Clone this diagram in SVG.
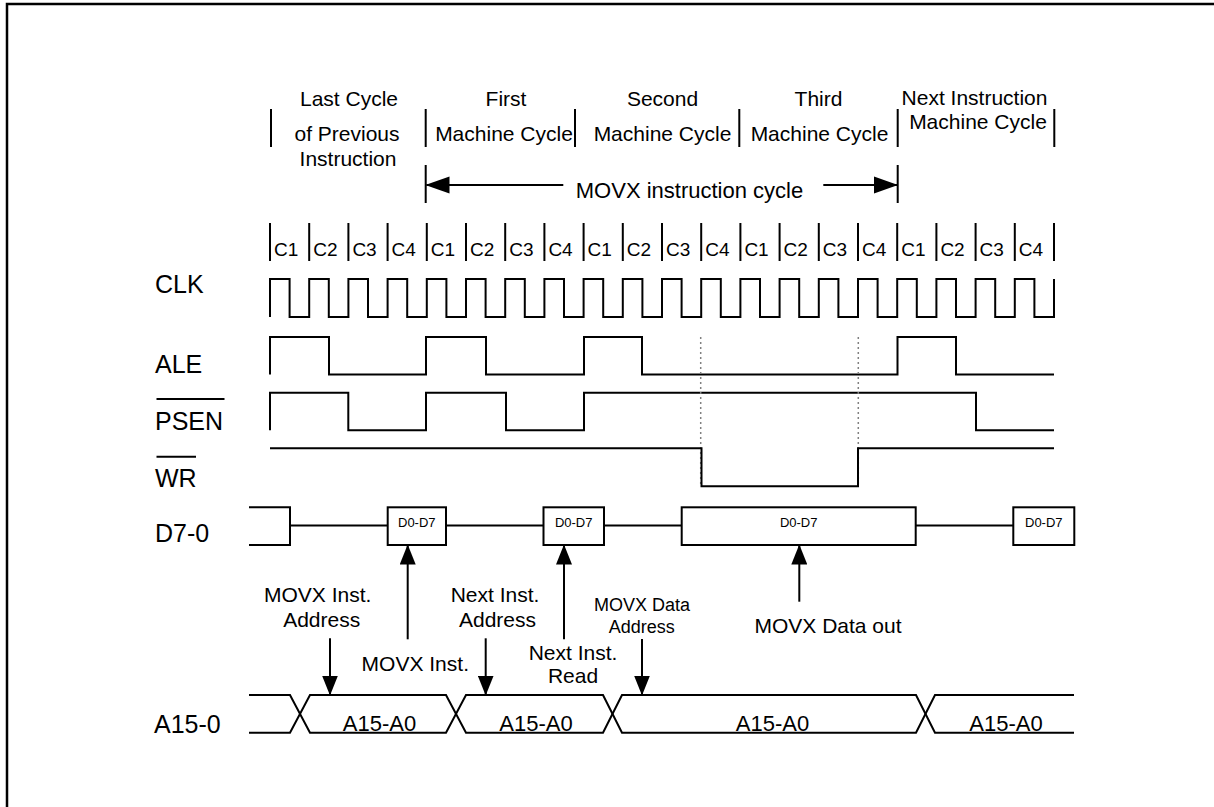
<svg xmlns="http://www.w3.org/2000/svg" width="1214" height="807" viewBox="0 0 1214 807">
<style>
text{font-family:"Liberation Sans",Arial,sans-serif;fill:#000}
.hd{font-size:21px;text-anchor:middle}
.ck{font-size:19px}
.lb{font-size:25px}
.dd{font-size:13px;text-anchor:middle}
.ab{font-size:22px;text-anchor:middle}
.an{font-size:21px;text-anchor:middle}
.sm{font-size:18px;text-anchor:middle}
.w{fill:none;stroke:#000;stroke-width:2}
.bx{fill:#fff;stroke:#000;stroke-width:2}
.dot{fill:none;stroke:#808080;stroke-width:1.5;stroke-dasharray:2 3}
</style>
<defs>
<marker id="ah" markerWidth="20" markerHeight="16" refX="19" refY="8" orient="auto" markerUnits="userSpaceOnUse"><path d="M0,0 L20,8 L0,16 z" fill="#000"/></marker>
<marker id="ahh" markerWidth="24" markerHeight="18" refX="23" refY="9" orient="auto" markerUnits="userSpaceOnUse"><path d="M0,0.5 L24,9 L0,17.5 z" fill="#000"/></marker>
</defs>
<rect width="1214" height="807" fill="#fff"/>
<path d="M7,807 V4 H1214" fill="none" stroke="#000" stroke-width="2.5"/>

<g id="header">
<text class="hd" x="349" y="106">Last Cycle</text>
<text class="hd" x="347" y="141">of Previous</text>
<text class="hd" x="348" y="166">Instruction</text>
<text class="hd" x="506" y="106">First</text>
<text class="hd" x="504" y="141">Machine Cycle</text>
<text class="hd" x="662.5" y="106">Second</text>
<text class="hd" x="662.5" y="141">Machine Cycle</text>
<text class="hd" x="818.5" y="106">Third</text>
<text class="hd" x="819.5" y="141">Machine Cycle</text>
<text class="hd" x="974.5" y="105">Next Instruction</text>
<text class="hd" x="978" y="128.5">Machine Cycle</text>
<path class="w" d="M271,109 V147 M425.7,109 V147 M575,109 V147 M739.3,109 V147 M897.7,109 V147 M1054.3,109 V147"/>
</g>

<g id="instr-cycle">
<path class="w" d="M425.7,165 V203 M897.7,165 V203"/>
<text class="hd" x="689.5" y="198" style="font-size:22px">MOVX instruction cycle</text>
</g>

<g id="c-labels">
<path class="w" d="M270,223 V261 M309.2,223 V261 M348.4,223 V261 M387.6,223 V261 M426.8,223 V261 M466,223 V261 M505.2,223 V261 M544.4,223 V261 M583.6,223 V261 M622.8,223 V261 M662,223 V261 M701.2,223 V261 M740.4,223 V261 M779.6,223 V261 M818.8,223 V261 M858,223 V261 M897.2,223 V261 M936.4,223 V261 M975.6,223 V261 M1014.8,223 V261 M1054,223 V261"/>
<text class="ck" x="274" y="256">C1</text>
<text class="ck" x="313.2" y="256">C2</text>
<text class="ck" x="352.4" y="256">C3</text>
<text class="ck" x="391.6" y="256">C4</text>
<text class="ck" x="430.8" y="256">C1</text>
<text class="ck" x="470" y="256">C2</text>
<text class="ck" x="509.2" y="256">C3</text>
<text class="ck" x="548.4" y="256">C4</text>
<text class="ck" x="587.6" y="256">C1</text>
<text class="ck" x="626.8" y="256">C2</text>
<text class="ck" x="666" y="256">C3</text>
<text class="ck" x="705.2" y="256">C4</text>
<text class="ck" x="744.4" y="256">C1</text>
<text class="ck" x="783.6" y="256">C2</text>
<text class="ck" x="822.8" y="256">C3</text>
<text class="ck" x="862" y="256">C4</text>
<text class="ck" x="901.2" y="256">C1</text>
<text class="ck" x="940.4" y="256">C2</text>
<text class="ck" x="979.6" y="256">C3</text>
<text class="ck" x="1018.8" y="256">C4</text>
</g>

<g id="signal-labels">
<text class="lb" x="155" y="293">CLK</text>
<text class="lb" x="155" y="373">ALE</text>
<text class="lb" x="155" y="429.5">PSEN</text>
<path class="w" d="M156.5,399 H224.5"/>
<text class="lb" x="155" y="487">WR</text>
<path class="w" d="M156.5,456.7 H196"/>
<text class="lb" x="155" y="542">D7-0</text>
<text class="lb" x="154" y="732.5">A15-0</text>
</g>

<g id="clk">
<path class="w" d="M270,317 V279 H289.6 V317 H309.2 V279 H328.8 V317 H348.4 V279 H368 V317 H387.6 V279 H407.2 V317 H426.8 V279 H446.4 V317 H466 V279 H485.6 V317 H505.2 V279 H524.8 V317 H544.4 V279 H564 V317 H583.6 V279 H603.2 V317 H622.8 V279 H642.4 V317 H662 V279 H681.6 V317 H701.2 V279 H720.8 V317 H740.4 V279 H760 V317 H779.6 V279 H799.2 V317 H818.8 V279 H838.4 V317 H858 V279 H877.6 V317 H897.2 V279 H916.8 V317 H936.4 V279 H956 V317 H975.6 V279 H995.2 V317 H1014.8 V279 H1034.4 V317 H1054 V279"/>
</g>

<g id="ale">
<path class="w" d="M270,374.5 V337 H329 V374.5 H426 V337 H486 V374.5 H584 V337 H642 V374.5 H897.5 V337 H956 V374.5 H1054"/>
</g>

<g id="psen">
<path class="w" d="M270,430.3 V392.7 H348.3 V430.3 H426 V392.7 H506 V430.3 H584 V392.7 H976 V430.3 H1054"/>
</g>

<g id="wr">
<path class="dot" d="M700.7,337 V486 M858.3,337 V486"/>
<path class="w" d="M270,448.3 H701.5 V486.3 H858 V448.3 H1054"/>
</g>

<g id="d-bus">
<path class="w" d="M249,507.3 H290 V545 H249 M290,525.5 H387.7 M446,525.5 H543.5 M604,525.5 H681.7 M915.7,525.5 H1013.3"/>
<rect class="bx" x="387.7" y="507.3" width="58.3" height="37.7"/>
<text class="dd" x="416.8" y="527.3">D0-D7</text>
<rect class="bx" x="543.5" y="507.3" width="60.5" height="37.7"/>
<text class="dd" x="573.7" y="527.3">D0-D7</text>
<rect class="bx" x="681.7" y="507.3" width="234" height="37.7"/>
<text class="dd" x="798.7" y="527.3">D0-D7</text>
<rect class="bx" x="1013.3" y="507.3" width="61" height="37.7"/>
<text class="dd" x="1043.8" y="527.3">D0-D7</text>
</g>

<g id="a-bus">
<path class="w" d="M249,695 H290 L310,732.7 H446 L466,695 H603 L622,732.7 H916 L935,695 H1074"/>
<path class="w" d="M249,732.7 H290 L310,695 H446 L466,732.7 H603 L622,695 H916 L935,732.7 H1074"/>
<text class="ab" x="379.5" y="731">A15-A0</text>
<text class="ab" x="536" y="731">A15-A0</text>
<text class="ab" x="772.5" y="731">A15-A0</text>
<text class="ab" x="1006" y="731">A15-A0</text>
</g>

<g id="annotations">
<text class="an" x="317.7" y="601.7">MOVX Inst.</text>
<text class="an" x="321.7" y="627.3">Address</text>
<text class="an" x="415.3" y="670.7">MOVX Inst.</text>
<text class="an" x="495" y="601.7">Next Inst.</text>
<text class="an" x="497.5" y="627.3">Address</text>
<text class="an" x="573" y="660">Next Inst.</text>
<text class="an" x="573" y="682.7">Read</text>
<text class="sm" x="642" y="610.7">MOVX Data</text>
<text class="sm" x="641.7" y="632.7">Address</text>
<text class="an" x="828" y="633.3">MOVX Data out</text>
</g>

<g id="connectors">
<line class="w" x1="563.3" y1="185" x2="426.5" y2="185" marker-end="url(#ahh)"/>
<line class="w" x1="823.3" y1="185" x2="897" y2="185" marker-end="url(#ahh)"/>
<line class="w" x1="407.7" y1="639.3" x2="407.7" y2="545.5" marker-end="url(#ah)"/>
<line class="w" x1="564" y1="639.3" x2="564" y2="545.5" marker-end="url(#ah)"/>
<line class="w" x1="799.3" y1="601.7" x2="799.3" y2="545.5" marker-end="url(#ah)"/>
<line class="w" x1="330" y1="638.3" x2="330" y2="694.5" marker-end="url(#ah)"/>
<line class="w" x1="485.7" y1="638.3" x2="485.7" y2="694.5" marker-end="url(#ah)"/>
<line class="w" x1="642" y1="639" x2="642" y2="694.5" marker-end="url(#ah)"/>
</g>
</svg>
